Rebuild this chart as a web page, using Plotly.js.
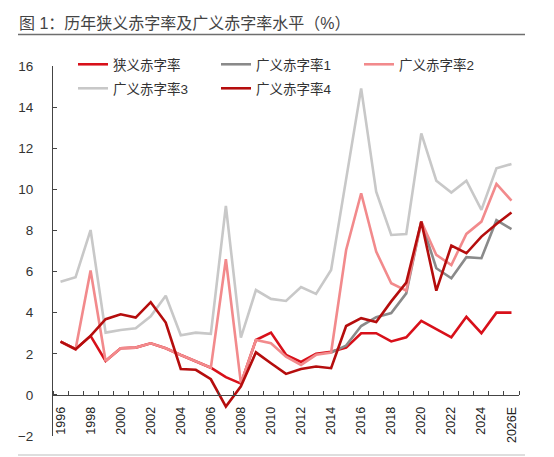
<!DOCTYPE html>
<html>
<head>
<meta charset="utf-8">
<script src="https://cdn.plot.ly/plotly-3.0.1.min.js"></script>
<style>
  html, body { margin: 0; padding: 0; background: #fff; }
  #chart { width: 554px; height: 457px; }
</style>
</head>
<body>
<div id="chart"></div>
<script>
// ---- data ----
const years = [1996,1997,1998,1999,2000,2001,2002,2003,2004,2005,2006,2007,2008,2009,2010,2011,2012,2013,2014,2015,2016,2017,2018,2019,2020,2021,2022,2023,2024,2025,2026];
const tickYears = [1996,1998,2000,2002,2004,2006,2008,2010,2012,2014,2016,2018,2020,2022,2024,2026];
const tickLabels = ["1996","1998","2000","2002","2004","2006","2008","2010","2012","2014","2016","2018","2020","2022","2024","2026E"];

const narrow = [2.59,2.22,2.87,1.65,2.27,2.30,2.51,2.27,1.94,1.62,1.32,0.86,0.55,2.67,3.03,1.95,1.60,2.00,2.10,2.30,3.00,3.00,2.60,2.80,3.60,3.20,2.80,3.80,3.00,4.00,4.00];
const broad1 = [null,null,null,null,null,null,null,null,null,null,null,null,null,null,null,null,null,null,2.06,2.40,3.35,3.78,3.98,4.94,8.43,6.16,5.67,6.70,6.65,8.50,8.07];
const broad2 = [2.59,2.22,6.05,1.65,2.27,2.30,2.51,2.27,1.94,1.62,1.32,6.60,0.57,2.67,2.51,1.86,1.46,1.95,2.06,7.05,9.81,6.97,5.43,5.07,8.43,6.81,6.32,7.83,8.43,10.26,9.45];
const broad3 = [5.51,5.72,8.02,3.03,3.16,3.24,3.82,4.82,2.90,3.03,2.97,9.19,2.79,5.10,4.67,4.57,5.25,4.91,6.08,10.6,14.91,9.89,7.78,7.83,12.72,10.42,9.84,10.42,9.00,11.02,11.23];
const broad4 = [2.59,2.22,2.87,3.68,3.92,3.76,4.51,3.52,1.26,1.22,0.76,-0.57,0.42,2.07,1.54,1.02,1.26,1.38,1.30,3.35,3.73,3.55,4.55,5.46,8.43,5.07,7.26,6.89,7.70,8.31,8.87];

const names = ["狭义赤字率","广义赤字率1","广义赤字率2","广义赤字率3","广义赤字率4"];

// ---- layout geometry (pixels) ----
const W = 554, H = 457;
const M = {l: 53, r: 35, t: 66, b: 21};
const plotW = W - M.l - M.r, plotH = H - M.t - M.b;
const px2x = p => (p - M.l) / plotW;
const px2y = p => (H - M.b - p) / plotH;
const yRange = [-2, 16];
const zeroPos = (0 - yRange[0]) / (yRange[1] - yRange[0]);

const FONT = "Liberation Sans, Noto Sans CJK SC, sans-serif";

function tr(y, name, color, legend) {
  return {x: years, y: y, name: name, type: "scatter", mode: "lines",
          line: {color: color, width: 2.6}, legend: legend,
          connectgaps: false, hoverinfo: "skip"};
}

const traces = [
  tr(narrow, names[0], "#D8101A", "legend"),
  tr(broad1, names[1], "#8A8A8A", "legend"),
  tr(broad2, names[2], "#F28A8C", "legend"),
  tr(broad3, names[3], "#C8C8C8", "legend2"),
  tr(broad4, names[4], "#B50D0D", "legend2")
];

const minorVals = [years[0] - 0.5].concat(years.map(v => v + 0.5));

const legendCommon = {
  orientation: "h", xanchor: "left", yanchor: "middle",
  entrywidth: 98, entrywidthmode: "pixels",
  bgcolor: "rgba(0,0,0,0)", borderwidth: 0,
  font: {family: FONT, size: 13.5, color: "#333"},
  itemclick: false, itemdoubleclick: false
};

const layout = {
  width: W, height: H,
  margin: M,
  paper_bgcolor: "#fff", plot_bgcolor: "#fff",
  font: {family: FONT, color: "#333"},
  showlegend: true,
  title: {
    text: "图 1：历年狭义赤字率及广义赤字率水平（%）",
    xref: "container", yref: "container",
    x: 19 / W, xanchor: "left",
    y: 1 - 23 / H, yanchor: "middle",
    font: {family: FONT, size: 16, color: "#444", weight: "normal"}
  },
  xaxis: {
    type: "linear",
    range: [years[0] - 0.5, years[years.length - 1] + 0.5],
    anchor: "free", position: zeroPos,
    showline: true, linecolor: "#444", linewidth: 1,
    showgrid: false, zeroline: false,
    tickmode: "array", tickvals: tickYears, ticktext: tickLabels,
    ticks: "", tickangle: -90,
    ticklabelstandoff: 6,
    tickfont: {family: FONT, size: 12.5, color: "#222"},
    minor: {tickmode: "array", tickvals: minorVals, ticks: "inside",
            ticklen: 4, tickcolor: "#444", tickwidth: 1, showgrid: false}
  },
  yaxis: {
    range: yRange, dtick: 2, tick0: 0,
    showline: true, linecolor: "#444", linewidth: 1,
    showgrid: false, zeroline: false,
    ticks: "inside", ticklen: 4, tickcolor: "#444",
    ticklabelstandoff: 16,
    tickfont: {family: FONT, size: 13.5, color: "#333"}
  },
  legend: Object.assign({}, legendCommon, {x: px2x(73), y: px2y(64.5)}),
  legend2: Object.assign({}, legendCommon, {x: px2x(73), y: px2y(88.5)}),
  shapes: [
    {type: "line", xref: "paper", yref: "paper",
     x0: px2x(18), x1: px2x(525), y0: px2y(34.5), y1: px2y(34.5),
     line: {color: "#6e6e6e", width: 1.5}},
    {type: "line", xref: "paper", yref: "paper",
     x0: px2x(18), x1: px2x(525), y0: px2y(455), y1: px2y(455),
     line: {color: "#bdbdbd", width: 1}}
  ]
};

Plotly.newPlot("chart", traces, layout, {staticPlot: true, displayModeBar: false});
</script>
</body>
</html>
